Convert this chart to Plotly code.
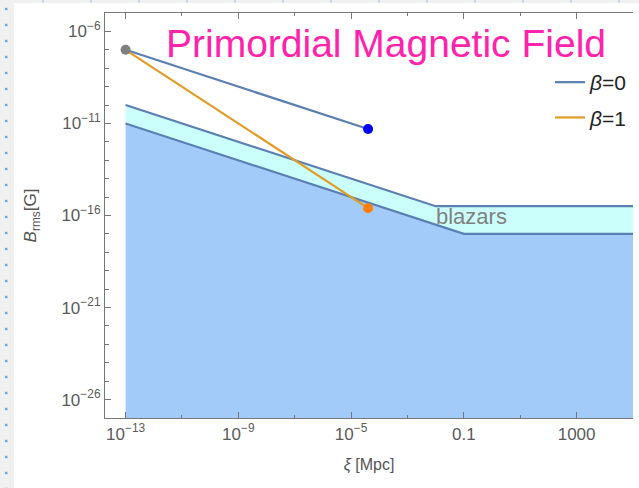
import plotly.graph_objects as go

# ---- data ----
xi_pts = [1e-13, 4e-5]                 # start / end of PMF evolution lines
B_beta0 = [1e-7, 5e-12]
B_beta1 = [1e-7, 2.5e-16]

blazar_up_x = [1e-13, 1e-2, 1e5]
blazar_up_y = [1e-10, 3.2e-16, 3.2e-16]
blazar_lo_x = [1e-13, 0.1, 1e5]
blazar_lo_y = [1e-11, 1e-17, 1e-17]

x_tickvals = [1e-13, 1e-9, 1e-5, 0.1, 1000]
x_ticktext = ["10<sup>−13</sup>", "10<sup>−9</sup>", "10<sup>−5</sup>", "0.1", "1000"]
y_tickvals = [1e-26, 1e-21, 1e-16, 1e-11, 1e-6]
y_ticktext = ["10<sup>−26</sup>", "10<sup>−21</sup>", "10<sup>−16</sup>", "10<sup>−11</sup>", "10<sup>−6</sup>"]

X_RANGE = [-13.73, 5.0]
Y_RANGE = [-27, -5]
B_floor = 10 ** Y_RANGE[0]

LINE_BLUE = "#5b7fb2"
LINE_ORANGE = "#e19c24"
FILL_BLUE = "#a3cbfa"
FILL_CYAN = "#cbfffb"
FONT = "Liberation Sans, Arial, sans-serif"

fig = go.Figure()

# lower filled region
fig.add_trace(go.Scatter(
    x=blazar_lo_x + [blazar_lo_x[-1], blazar_lo_x[0]],
    y=blazar_lo_y + [B_floor, B_floor],
    fill="toself", fillcolor=FILL_BLUE, mode="none",
    showlegend=False, hoverinfo="skip"))
# blazar band
fig.add_trace(go.Scatter(
    x=blazar_up_x + blazar_lo_x[::-1],
    y=blazar_up_y + blazar_lo_y[::-1],
    fill="toself", fillcolor=FILL_CYAN, mode="none",
    showlegend=False, hoverinfo="skip"))
fig.add_trace(go.Scatter(x=blazar_up_x, y=blazar_up_y, mode="lines",
                         line=dict(color=LINE_BLUE, width=2.2), showlegend=False))
fig.add_trace(go.Scatter(x=blazar_lo_x, y=blazar_lo_y, mode="lines",
                         line=dict(color=LINE_BLUE, width=2.2), showlegend=False))

# beta lines
fig.add_trace(go.Scatter(x=xi_pts, y=B_beta0, mode="lines", name="<i>β</i>=0",
                         line=dict(color=LINE_BLUE, width=2.2), legendgroup="a"))
fig.add_trace(go.Scatter(x=xi_pts, y=B_beta1, mode="lines", name="<i>β</i>=1",
                         line=dict(color=LINE_ORANGE, width=2.2), legendgroup="b"))

# points
fig.add_trace(go.Scatter(x=[xi_pts[0]], y=[B_beta0[0]], mode="markers",
                         marker=dict(color="#7f7f7f", size=10), showlegend=False))
fig.add_trace(go.Scatter(x=[xi_pts[1]], y=[B_beta0[1]], mode="markers",
                         marker=dict(color="#0000ff", size=10), showlegend=False))
fig.add_trace(go.Scatter(x=[xi_pts[1]], y=[B_beta1[1]], mode="markers",
                         marker=dict(color="#ff7f0e", size=10), showlegend=False))

# notebook-like left strip
W, H = 639, 488
ml, mr, mt, mb = 105, 6, 13, 70
pw, ph = W - ml - mr, H - mt - mb
def px(x):
    return (x - ml) / pw
def py(y):
    return 1 - (y - mt) / ph
shapes = [dict(type="rect", xref="paper", yref="paper", x0=px(-2), x1=px(14),
               y0=py(H + 2), y1=py(-2), fillcolor="#f0f0f0", line=dict(width=0), layer="below"),
          dict(type="rect", xref="paper", yref="paper", x0=px(14), x1=px(W + 2),
               y0=py(3), y1=py(-2), fillcolor="#f0f0f0", line=dict(width=0), layer="below")]
for k in range(31):
    yy = 9 + 16 * k
    shapes.append(dict(type="rect", xref="paper", yref="paper", x0=px(5), x1=px(7.5),
                       y0=py(yy + 1.2), y1=py(yy - 1.2), fillcolor="#6fa6e0",
                       line=dict(width=0)))
for k in range(14):
    xx = 43 + 48 * k
    shapes.append(dict(type="rect", xref="paper", yref="paper", x0=px(xx - 0.6), x1=px(xx + 0.6),
                       y0=py(2.5), y1=py(0), fillcolor="#9cc2e8", line=dict(width=0)))

fig.update_layout(
    width=W, height=H,
    margin=dict(l=ml, r=mr, t=mt, b=mb, autoexpand=False),
    paper_bgcolor="white", plot_bgcolor="white",
    font=dict(family=FONT, color="#555555", size=15),
    shapes=shapes,
    showlegend=True,
    legend=dict(x=px(632), y=py(62), xanchor="right", yanchor="top",
                bgcolor="rgba(0,0,0,0)", font=dict(size=21, color="#222222"),
                tracegroupgap=5, itemwidth=30),
    annotations=[
        dict(text="Primordial Magnetic Field", xref="paper", yref="paper",
             x=px(386), y=py(44), xanchor="center", yanchor="middle", showarrow=False,
             font=dict(size=39, color="#ff22aa", family=FONT)),
        dict(text="blazars", x=-0.72, y=-16.05, xref="x", yref="y",
             xanchor="center", yanchor="middle", showarrow=False,
             font=dict(size=22, color="#808080", family=FONT)),
    ],
)
fig.update_xaxes(
    type="log", range=X_RANGE, showgrid=False, zeroline=False, automargin=False,
    showline=True, linecolor="#777777", linewidth=1.2, mirror="ticks",
    tickvals=x_tickvals, ticktext=x_ticktext, ticks="inside", ticklen=6,
    tickcolor="#777777", tickfont=dict(size=17, color="#5a5a5a"),
    minor=dict(ticks="inside", dtick=2, tick0=-13, ticklen=3, tickcolor="#777777", showgrid=False),
    title=dict(text="<i>ξ</i> [Mpc]", font=dict(size=16, color="#555555"), standoff=16),
)
fig.update_yaxes(
    type="log", range=Y_RANGE, showgrid=False, zeroline=False, automargin=False,
    showline=True, linecolor="#777777", linewidth=1.2,
    tickvals=y_tickvals, ticktext=y_ticktext, ticks="inside", ticklen=6,
    tickcolor="#777777", tickfont=dict(size=17, color="#5a5a5a"),
    minor=dict(ticks="inside", dtick=1, ticklen=4, tickcolor="#777777", showgrid=False),
    title=dict(text="<i>B</i><sub>rms</sub>[G]", font=dict(size=17, color="#555555"), standoff=20),
)

fig.write_html("out.html", config={"displayModeBar": False},
               post_script="document.body.style.margin='0px';")
